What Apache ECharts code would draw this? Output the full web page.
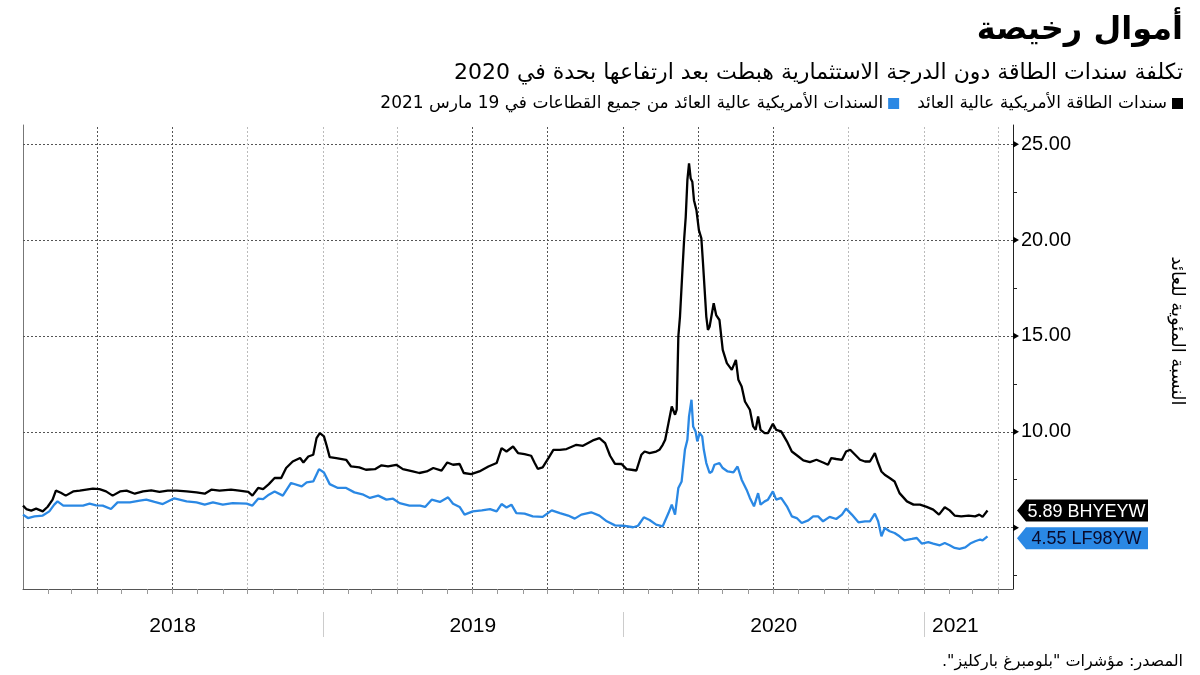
<!DOCTYPE html>
<html><head><meta charset="utf-8">
<script src="https://cdn.jsdelivr.net/npm/echarts@6/dist/echarts.min.js"></script>
<style>html,body{margin:0;padding:0;background:#fff}#c{width:1200px;height:675px}</style>
</head><body><div id="c"></div>
<script>
// ---------- data ----------
const blackName = 'سندات الطاقة الأمريكية عالية العائد';
const blueName = 'السندات الأمريكية عالية العائد من جميع القطاعات في 19 مارس 2021';
const blackCode = 'BHYEYW';
const blueCode = 'LF98YW';

const blackDates = ['2018-01-01','2018-01-05','2018-01-11','2018-01-17','2018-01-25','2018-01-31','2018-02-06','2018-02-10','2018-02-16','2018-02-22','2018-03-03','2018-03-11','2018-03-19','2018-03-27','2018-04-04','2018-04-12','2018-04-20','2018-04-29','2018-05-07','2018-05-17','2018-05-27','2018-06-06','2018-06-16','2018-06-26','2018-07-07','2018-07-19','2018-07-31','2018-08-10','2018-08-18','2018-08-28','2018-09-11','2018-09-21','2018-10-02','2018-10-07','2018-10-14','2018-10-20','2018-10-27','2018-11-03','2018-11-11','2018-11-17','2018-11-25','2018-12-04','2018-12-08','2018-12-14','2018-12-20','2018-12-24','2018-12-28','2019-01-02','2019-01-05','2019-01-09','2019-01-17','2019-01-29','2019-02-04','2019-02-14','2019-02-22','2019-03-05','2019-03-13','2019-03-21','2019-03-31','2019-04-08','2019-04-20','2019-04-28','2019-05-07','2019-05-15','2019-05-25','2019-06-01','2019-06-08','2019-06-16','2019-06-21','2019-06-30','2019-07-10','2019-07-21','2019-07-31','2019-08-06','2019-08-12','2019-08-20','2019-08-26','2019-09-03','2019-09-11','2019-09-15','2019-09-19','2019-09-25','2019-10-02','2019-10-08','2019-10-16','2019-10-24','2019-11-05','2019-11-13','2019-11-25','2019-12-03','2019-12-10','2019-12-16','2019-12-22','2019-12-30','2020-01-05','2020-01-11','2020-01-17','2020-01-23','2020-01-27','2020-02-02','2020-02-10','2020-02-14','2020-02-18','2020-02-21','2020-02-25','2020-02-29','2020-03-04','2020-03-06','2020-03-08','2020-03-10','2020-03-13','2020-03-15','2020-03-17','2020-03-19','2020-03-21','2020-03-23','2020-03-25','2020-03-27','2020-03-30','2020-04-02','2020-04-05','2020-04-07','2020-04-09','2020-04-11','2020-04-13','2020-04-15','2020-04-17','2020-04-20','2020-04-23','2020-04-27','2020-05-01','2020-05-06','2020-05-12','2020-05-17','2020-05-20','2020-05-24','2020-05-28','2020-06-03','2020-06-07','2020-06-10','2020-06-13','2020-06-16','2020-06-21','2020-06-25','2020-07-01','2020-07-05','2020-07-11','2020-07-18','2020-07-24','2020-08-01','2020-08-07','2020-08-15','2020-08-23','2020-08-31','2020-09-06','2020-09-10','2020-09-16','2020-09-23','2020-09-28','2020-10-03','2020-10-09','2020-10-15','2020-10-21','2020-10-27','2020-11-02','2020-11-06','2020-11-10','2020-11-14','2020-11-20','2020-11-26','2020-12-02','2020-12-11','2020-12-19','2020-12-27','2021-01-04','2021-01-12','2021-01-19','2021-01-26','2021-02-01','2021-02-07','2021-02-15','2021-02-24','2021-03-04','2021-03-09','2021-03-13','2021-03-19'];
const blackValues = [6.15,5.97,5.89,5.99,5.85,6.09,6.46,6.93,6.82,6.67,6.89,6.93,6.98,7.03,7.01,6.89,6.67,6.89,6.93,6.77,6.89,6.94,6.87,6.93,6.93,6.89,6.84,6.77,6.98,6.93,6.98,6.93,6.86,6.67,7.07,7.01,7.27,7.59,7.59,8.11,8.45,8.63,8.40,8.71,8.80,9.67,9.93,9.76,9.32,8.68,8.63,8.54,8.19,8.14,8.02,8.05,8.25,8.19,8.28,8.05,7.93,7.85,7.93,8.11,7.97,8.40,8.28,8.32,7.85,7.79,7.93,8.19,8.37,9.15,8.97,9.23,8.89,8.84,8.75,8.40,8.07,8.14,8.63,9.06,9.06,9.10,9.32,9.27,9.55,9.67,9.41,8.75,8.33,8.32,8.05,8.02,7.98,8.80,8.97,8.89,8.97,9.06,9.32,9.58,10.45,11.32,10.89,11.15,14.97,16.01,18.44,20.00,21.21,23.12,24.00,23.21,23.04,22.08,21.56,20.52,20.09,18.79,17.40,16.01,15.31,15.48,15.40,16.70,16.09,15.83,14.27,13.58,13.23,13.75,12.71,12.36,11.58,11.15,10.28,10.10,10.80,10.10,9.93,9.93,10.42,10.10,10.02,9.50,8.97,8.71,8.51,8.42,8.54,8.40,8.28,8.63,8.58,8.54,8.97,9.06,8.80,8.54,8.45,8.45,8.89,8.37,7.93,7.76,7.59,7.41,6.80,6.37,6.20,6.20,6.08,5.94,5.68,6.06,5.90,5.63,5.59,5.63,5.59,5.68,5.56,5.89];

const blueDates = ['2018-01-01','2018-01-07','2018-01-15','2018-01-25','2018-02-02','2018-02-08','2018-02-12','2018-02-19','2018-03-03','2018-03-15','2018-03-23','2018-03-31','2018-04-08','2018-04-18','2018-04-26','2018-05-11','2018-05-23','2018-05-31','2018-06-10','2018-06-20','2018-07-04','2018-07-19','2018-07-31','2018-08-10','2018-08-20','2018-09-01','2018-09-13','2018-09-30','2018-10-07','2018-10-14','2018-10-20','2018-10-27','2018-11-03','2018-11-13','2018-11-23','2018-12-06','2018-12-12','2018-12-20','2018-12-27','2019-01-02','2019-01-09','2019-01-19','2019-01-29','2019-02-08','2019-02-19','2019-02-27','2019-03-09','2019-03-19','2019-03-27','2019-04-04','2019-04-16','2019-04-29','2019-05-05','2019-05-13','2019-05-23','2019-06-02','2019-06-08','2019-06-16','2019-06-22','2019-07-02','2019-07-13','2019-07-23','2019-07-31','2019-08-06','2019-08-12','2019-08-18','2019-08-24','2019-09-03','2019-09-13','2019-09-25','2019-10-06','2019-10-16','2019-10-26','2019-11-03','2019-11-11','2019-11-23','2019-12-03','2019-12-12','2019-12-22','2020-01-01','2020-01-13','2020-01-19','2020-01-26','2020-02-02','2020-02-10','2020-02-18','2020-02-25','2020-02-29','2020-03-04','2020-03-08','2020-03-12','2020-03-16','2020-03-19','2020-03-21','2020-03-24','2020-03-26','2020-03-29','2020-03-31','2020-04-03','2020-04-06','2020-04-08','2020-04-11','2020-04-15','2020-04-18','2020-04-21','2020-04-27','2020-05-01','2020-05-07','2020-05-14','2020-05-19','2020-05-24','2020-05-30','2020-06-03','2020-06-08','2020-06-13','2020-06-16','2020-06-21','2020-06-25','2020-07-01','2020-07-05','2020-07-11','2020-07-18','2020-07-24','2020-07-30','2020-08-05','2020-08-13','2020-08-19','2020-08-25','2020-08-31','2020-09-08','2020-09-16','2020-09-23','2020-09-28','2020-10-05','2020-10-13','2020-10-21','2020-10-27','2020-11-02','2020-11-06','2020-11-10','2020-11-14','2020-11-20','2020-11-26','2020-12-02','2020-12-08','2020-12-17','2020-12-23','2020-12-29','2021-01-06','2021-01-12','2021-01-20','2021-01-26','2021-02-01','2021-02-07','2021-02-13','2021-02-20','2021-02-26','2021-03-04','2021-03-10','2021-03-13','2021-03-19'];
const blueValues = [5.68,5.50,5.59,5.63,5.85,6.20,6.37,6.15,6.15,6.15,6.25,6.16,6.15,5.97,6.32,6.32,6.41,6.46,6.34,6.23,6.53,6.37,6.32,6.20,6.32,6.20,6.28,6.25,6.15,6.51,6.49,6.72,6.89,6.67,7.33,7.15,7.36,7.41,8.05,7.88,7.27,7.07,7.07,6.84,6.72,6.55,6.67,6.46,6.51,6.28,6.15,6.15,6.08,6.46,6.34,6.58,6.25,6.08,5.68,5.85,5.90,5.97,5.85,6.23,6.05,6.20,5.76,5.73,5.59,5.56,5.90,5.76,5.63,5.47,5.68,5.80,5.63,5.33,5.12,5.10,5.02,5.10,5.54,5.40,5.16,5.07,5.76,6.20,5.68,7.07,7.41,9.06,9.58,10.80,11.67,10.28,10.02,9.50,9.93,9.76,9.06,8.37,7.85,7.93,8.28,8.37,8.11,7.93,7.88,8.19,7.50,6.98,6.55,6.11,6.80,6.20,6.37,6.46,6.89,6.46,6.55,6.11,5.59,5.50,5.24,5.38,5.59,5.59,5.33,5.56,5.45,5.68,5.99,5.68,5.28,5.33,5.33,5.73,5.33,4.55,4.98,4.81,4.72,4.55,4.34,4.41,4.46,4.17,4.24,4.17,4.08,4.20,4.08,3.94,3.89,3.97,4.17,4.29,4.38,4.34,4.55];

const yLabelValues = [10, 15, 20, 25];
const yMajorValues = [5, 10, 15, 20, 25];
const yMinorValues = [2.5, 7.5, 12.5, 17.5, 22.5];
const yearLabels = ['2018', '2019', '2020', '2021'];
const yearLabelDates = ['2018-07-02', '2019-07-02', '2020-07-02', '2021-02-08'];
const yearBoundaryDates = ['2019-01-01', '2020-01-01', '2021-01-01'];
const quarterDates = ['2018-04-01','2018-07-01','2018-10-01','2019-01-01','2019-04-01','2019-07-01','2019-10-01','2020-01-01','2020-04-01','2020-07-01','2020-10-01','2021-01-01','2021-04-01'];
const xStart = '2018-01-01';
const xEnd = '2021-04-19';

const titleText = 'أموال رخيصة';
const subtitleText = 'تكلفة سندات الطاقة دون الدرجة الاستثمارية هبطت بعد ارتفاعها بحدة في 2020';
const sourceText = 'المصدر: مؤشرات "بلومبرغ باركليز".';
const yAxisTitle = 'النسبة المئوية للعائد';

// ---------- helpers / styles ----------
const ts = d => Date.parse(d + 'T00:00:00Z');
const xMin = ts(xStart), xMax = ts(xEnd);
const monthTicks = [];
for (let y = 2018; y <= 2021; y++) for (let m = 0; m < 12; m++) {
  const t = Date.UTC(y, m, 1);
  if (t > xMin && t <= xMax) monthTicks.push(t);
}
const lightQuarters = ['2018-10-01','2019-01-01','2019-04-01','2020-10-01','2021-01-01','2021-04-01'];
const AR = "'DejaVu Sans', sans-serif";
const NUM = "'Liberation Sans', Arial, sans-serif";
const BLUE = '#2a88e4';
const RLM = '\u200F';

const lastBlack = blackValues[blackValues.length - 1];
const lastBlue = blueValues[blueValues.length - 1];
const tagPath = 'path://M0,11L9,0L131,0L131,22L9,22Z';

const gridLines = [
  ...yMajorValues.map(v => ({ yAxis: v, lineStyle: { color: '#555', type: [2, 2], width: 1 } })),
  ...quarterDates.map(d => ({ xAxis: ts(d), lineStyle: { color: lightQuarters.includes(d) ? '#bbb' : '#555', type: [2, 2], width: 1 } }))
];

const chart = echarts.init(document.getElementById('c'), null, { renderer: 'canvas' });
chart.setOption({
  animation: false,
  backgroundColor: '#fff',
  title: [
    { text: titleText, right: 17, top: 15, padding: 0, textStyle: { fontFamily: AR, fontWeight: 'bold', fontSize: 32, color: '#000' } },
    { text: subtitleText, right: 17, top: 62, padding: 0, textStyle: { fontFamily: AR, fontWeight: 'normal', fontSize: 22, color: '#000' } },
    { text: sourceText + RLM, right: 17, top: 654, padding: 0, textStyle: { fontFamily: AR, fontWeight: 'normal', fontSize: 16, color: '#000' } }
  ],
  legend: {
    data: [blueName, blackName], right: 17, top: 95, padding: 0, align: 'right', icon: 'rect',
    itemWidth: 11, itemHeight: 11, itemGap: 18, selectedMode: false,
    textStyle: { fontFamily: AR, fontSize: 17, color: '#000' }
  },
  grid: { left: 23, right: 187, top: 125, bottom: 86, containLabel: false },
  xAxis: [
    {
      type: 'value', min: xMin, max: xMax, position: 'bottom',
      axisLine: { show: true, onZero: false, lineStyle: { color: '#555', width: 1 } },
      axisTick: { show: true, customValues: monthTicks, length: 5, lineStyle: { color: '#999' } },
      axisLabel: {
        show: true, customValues: yearLabelDates.map(ts), margin: 27,
        formatter: v => yearLabels[yearLabelDates.map(ts).indexOf(v)] || '',
        fontFamily: NUM, fontSize: 21, color: '#000'
      },
      splitLine: { show: false }
    },
    {
      type: 'value', min: xMin, max: xMax, position: 'bottom', offset: 23,
      axisLine: { show: false },
      axisTick: { show: true, customValues: yearBoundaryDates.map(ts), length: 25, lineStyle: { color: '#ccc' } },
      axisLabel: { show: false }, splitLine: { show: false }
    }
  ],
  yAxis: [
    {
      type: 'value', position: 'right', min: 1.8, max: 26,
      axisLine: { show: true, lineStyle: { color: '#222' } },
      axisTick: { show: true, customValues: yMinorValues, length: 4, lineStyle: { color: '#222' } },
      axisLabel: { customValues: yLabelValues, formatter: v => Number(v).toFixed(2), margin: 8, fontFamily: NUM, fontSize: 20, color: '#000' },
      splitLine: { show: false }
    },
    {
      type: 'value', position: 'left', min: 1.8, max: 26,
      axisLine: { show: true, lineStyle: { color: '#777' } },
      axisTick: { show: false }, axisLabel: { show: false }, splitLine: { show: false }
    }
  ],
  graphic: [
    { type: 'text', x: 1177, y: 331, rotation: -Math.PI / 2,
      style: { text: yAxisTitle, fill: '#000', fontFamily: AR, fontSize: 18, align: 'center', verticalAlign: 'middle' } }
  ],
  series: [
    {
      name: blueName, type: 'line', color: BLUE, z: 3, clip: false,
      data: blueDates.map((d, i) => [ts(d), blueValues[i]]),
      showSymbol: false, symbol: 'none', lineStyle: { color: BLUE, width: 2.3 },
      markPoint: {
        silent: true, z: 6,
        data: [{
          coord: [xMax, lastBlue], symbol: tagPath, symbolSize: [131, 22], symbolOffset: [69.5, 2],
          itemStyle: { color: BLUE },
          label: { show: true, position: 'inside', offset: [4, 1], formatter: lastBlue.toFixed(2) + ' ' + blueCode, color: '#0a0a2a', fontFamily: NUM, fontSize: 18 }
        }]
      }
    },
    {
      name: blackName, type: 'line', color: '#000', z: 4, clip: false,
      data: blackDates.map((d, i) => [ts(d), blackValues[i]]),
      showSymbol: false, symbol: 'none', lineStyle: { color: '#000', width: 2.3 },
      markLine: { silent: true, z: 1, symbol: 'none', label: { show: false }, data: gridLines },
      markPoint: {
        silent: true, z: 6,
        data: [
          ...yMajorValues.map(v => ({ coord: [xMax, v], symbol: 'triangle', symbolSize: [7, 6], symbolRotate: -90, symbolOffset: [3, 0], itemStyle: { color: '#000' }, label: { show: false } })),
          {
            coord: [xMax, lastBlack], symbol: tagPath, symbolSize: [131, 22], symbolOffset: [69.5, 0],
            itemStyle: { color: '#000' },
            label: { show: true, position: 'inside', offset: [4, 1], formatter: lastBlack.toFixed(2) + ' ' + blackCode, color: '#fff', fontFamily: NUM, fontSize: 18 }
          }
        ]
      }
    }
  ]
});
</script>
</body></html>
